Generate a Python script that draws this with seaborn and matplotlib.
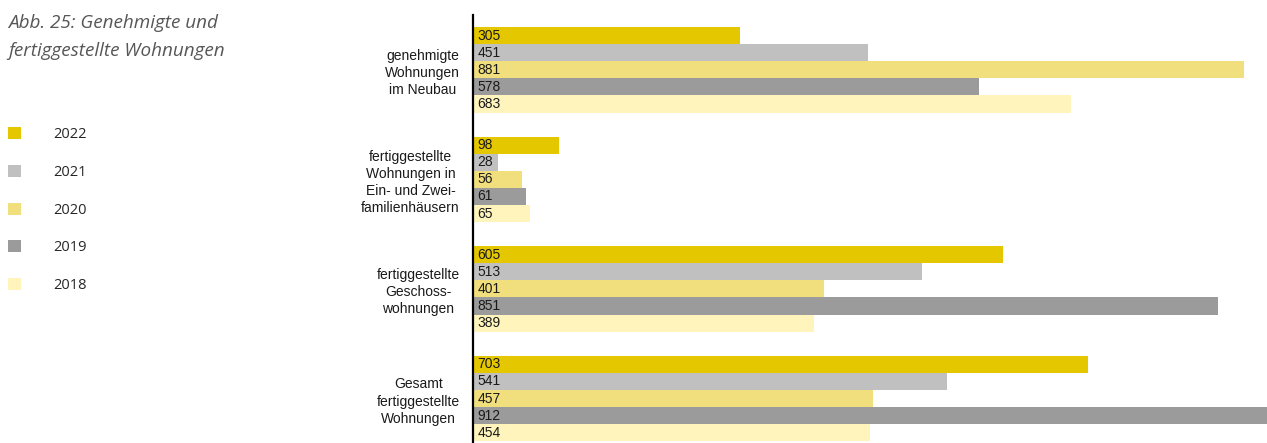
import pandas as pd
import seaborn as sns
import matplotlib.pyplot as plt
from matplotlib.patches import Patch

# ==============================================================================
# DATA
# ==============================================================================
categories = [
    "genehmigte\nWohnungen\nim Neubau",
    "fertiggestellte\nWohnungen in\nEin- und Zwei-\nfamilienhäusern",
    "fertiggestellte\nGeschoss-\nwohnungen",
    "Gesamt\nfertiggestellte\nWohnungen",
]
years = ["2022", "2021", "2020", "2019", "2018"]
v2022 = [305, 98, 605, 703]
v2021 = [451, 28, 513, 541]
v2020 = [881, 56, 401, 457]
v2019 = [578, 61, 851, 912]
v2018 = [683, 65, 389, 454]
colors = ["#E5C700", "#C0C0C0", "#F0DF7C", "#9B9B9B", "#FFF4BC"]

rows = []
for year, vals in zip(years, [v2022, v2021, v2020, v2019, v2018]):
    for cat, v in zip(categories, vals):
        rows.append({"Kategorie": cat, "Jahr": year, "Wert": v})
df = pd.DataFrame(rows)

# ==============================================================================
# PLOT
# ==============================================================================
sns.set_theme(style="white")
plt.rcParams["font.family"] = ["Liberation Sans", "DejaVu Sans"]

fig = plt.figure(figsize=(12.67, 4.43), dpi=100)
ax = fig.add_axes([473 / 1267, 0.0, 1 - 473 / 1267, (443 - 15) / 443])

sns.barplot(data=df, y="Kategorie", x="Wert", hue="Jahr", hue_order=years,
            order=categories, palette=colors, orient="h", width=0.78,
            saturation=1, legend=False, linewidth=0, ax=ax)

ax.set_xlim(0, 907)
ax.set_ylim(3.406, -0.5)
ax.set_xlabel("")
ax.set_ylabel("")
ax.set_xticks([])
for s in ["top", "right", "bottom"]:
    ax.spines[s].set_visible(False)
ax.spines["left"].set_color("black")
ax.spines["left"].set_linewidth(1.6)
ax.tick_params(axis="y", length=0, pad=9.5)
for lbl in ax.get_yticklabels():
    lbl.set_multialignment("center")
    lbl.set_fontsize(10)
    lbl.set_color("#1a1a1a")
    lbl.set_linespacing(1.28)

# values inside the bars, at the left
for cont in ax.containers:
    for bar in cont:
        ax.annotate(f"{int(bar.get_width())}",
                    (0, bar.get_y() + bar.get_height() / 2),
                    xytext=(3, 0), textcoords="offset points",
                    ha="left", va="center", fontsize=10, color="#1a1a1a")

# title
fig.text(8 / 1267, 1 - 37 / 443, "Abb. 25: Genehmigte und\nfertiggestellte Wohnungen",
         ha="left", va="center", fontsize=13.6, style="italic", color="#575757",
         family=["Open Sans", "DejaVu Sans"], linespacing=1.65)

# legend
handles = [Patch(facecolor=c, edgecolor="none", label=y) for c, y in zip(colors, years)]
fig.legend(handles=handles, loc="upper left", bbox_to_anchor=(-5 / 1267, 1 - 114 / 443),
           frameon=False, handlelength=0.9, handleheight=0.9, handletextpad=2.2,
           labelspacing=1.55, prop={"family": ["Open Sans", "DejaVu Sans"], "size": 10.5})

plt.savefig("out.png", dpi=100)
